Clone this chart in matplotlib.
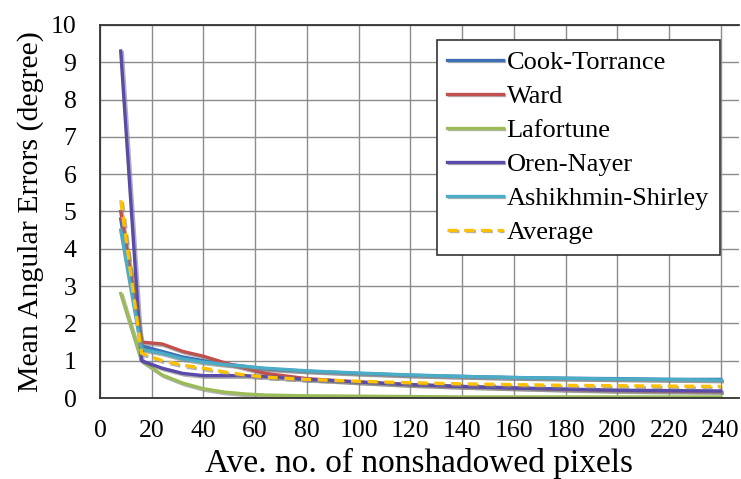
import matplotlib
matplotlib.use("Agg")
import matplotlib.pyplot as plt
import matplotlib.patheffects as pe

x = [8, 16, 24, 32, 40, 48, 56, 64, 80, 100, 120, 140, 160, 180, 200, 220, 240]
cook_torrance = [4.8, 1.4, 1.25, 1.1, 1.0, 0.92, 0.85, 0.78, 0.72, 0.66, 0.61, 0.58, 0.55, 0.53, 0.52, 0.5, 0.5]
ward = [5.0, 1.5, 1.45, 1.25, 1.12, 0.95, 0.8, 0.66, 0.52, 0.43, 0.36, 0.31, 0.27, 0.23, 0.2, 0.18, 0.17]
lafortune = [2.8, 1.0, 0.62, 0.4, 0.25, 0.16, 0.11, 0.08, 0.06, 0.05, 0.04, 0.03, 0.03, 0.03, 0.03, 0.03, 0.03]
oren_nayer = [9.3, 1.0, 0.8, 0.66, 0.6, 0.6, 0.6, 0.57, 0.5, 0.43, 0.36, 0.31, 0.27, 0.24, 0.21, 0.2, 0.19]
ashikhmin = [4.5, 1.3, 1.2, 1.05, 0.96, 0.9, 0.85, 0.8, 0.73, 0.67, 0.62, 0.58, 0.55, 0.53, 0.51, 0.5, 0.48]
average = [5.3, 1.2, 1.0, 0.88, 0.8, 0.7, 0.62, 0.56, 0.5, 0.45, 0.41, 0.38, 0.36, 0.34, 0.33, 0.32, 0.31]

labels = ["Cook-Torrance", "Ward", "Lafortune", "Oren-Nayer", "Ashikhmin-Shirley", "Average"]
series = [cook_torrance, ward, lafortune, oren_nayer, ashikhmin, average]
colors = ["#3F6FB5", "#C0504D", "#9BBB59", "#5A4BA8", "#4BACC6", "#FFC000"]
dashed = [False, False, False, False, False, True]
x_ticks = list(range(0, 241, 20))
y_ticks = list(range(0, 11))

plt.rcParams['font.family'] = ['Liberation Serif', 'DejaVu Serif']

fig = plt.figure(figsize=(7.41, 4.79), dpi=100)
ax = fig.add_axes([0.135, 0.169, 0.862, 0.779])

shadow = [pe.SimpleLineShadow(offset=(1.2, -1.2), shadow_color='#808080', alpha=0.6), pe.Normal()]
for s, lab, c, d in zip(series, labels, colors, dashed):
    line, = ax.plot(x, s, color=c, lw=2.4, label=lab, path_effects=shadow)
    if d:
        line.set_dashes((3, 2))

ax.set_xlim(0, 247)
ax.set_ylim(0, 10)
ax.set_xticks(x_ticks)
ax.set_yticks(y_ticks)
ax.grid(True, color='#8C8C8C', lw=1.0)
ax.set_axisbelow(True)
ax.tick_params(axis='x', length=0, labelsize=18.5, pad=16)
ax.tick_params(axis='y', length=0, labelsize=18.5, pad=17)
for sp in ax.spines.values():
    sp.set_color('#333333')
    sp.set_linewidth(1.3)
ax.spines['right'].set_visible(False)

ax.set_xlabel("Ave. no. of nonshadowed pixels", fontsize=24, labelpad=4)
ax.set_ylabel("Mean Angular Errors (degree)", fontsize=21.5, labelpad=5)

leg = ax.legend(loc='upper right', bbox_to_anchor=(0.97, 0.96), fontsize=19,
                frameon=True, fancybox=False, edgecolor='#333333', framealpha=1,
                handlelength=2.1, handletextpad=0.15, labelspacing=0.4, borderpad=0.4,
                borderaxespad=0.0)
leg.get_frame().set_linewidth(1.2)

fig.savefig("out.png", dpi=100)
